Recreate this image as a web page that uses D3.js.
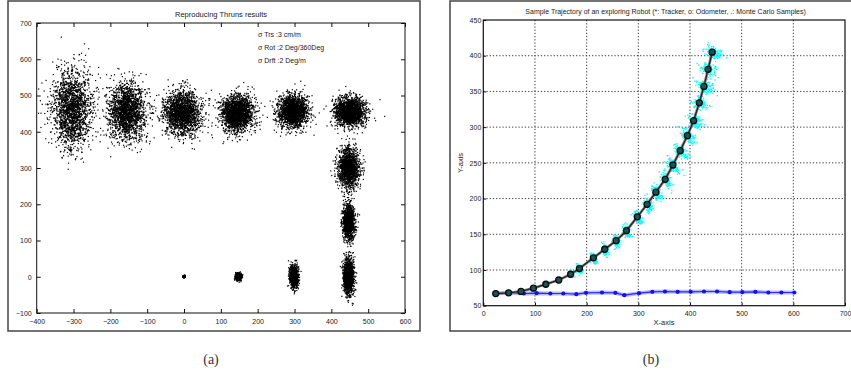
<!DOCTYPE html>
<html><head><meta charset="utf-8">
<script src="https://cdn.jsdelivr.net/npm/d3@7"></script>
<style>
html,body{margin:0;padding:0;background:#fff;}
svg{display:block;}
</style></head>
<body>
<svg id="chart" width="851" height="376"></svg>
<script>
// ---------- Panel (a): sample clouds ----------
const leftTitle = "Reproducing Thruns results";
const leftLegend = ["σ Trs :3 cm/m", "σ Rot :2 Deg/360Deg", "σ Drft :2 Deg/m"];
const leftTicksX = [-400,-300,-200,-100,0,100,200,300,400,500,600];
const leftTicksY = [-100,0,100,200,300,400,500,600,700];
const cloudX   = [-305,-155,-5,145,297,450,447,447,447,299,148,0];
const cloudY   = [465,455,452,450,455,455,300,150,0,0,0,0];
const cloudSdX = [26,25,24,22,20,21,14,8,7,6,4,1.5];
const cloudSdY = [52,40,30,25,22,20,26,23,25,15,5,1.5];
const cloudN   = [1900,1900,1900,1900,1900,1900,1500,1300,1300,900,600,150];

// ---------- Panel (b): trajectory ----------
const rightTitle = "Sample Trajectory of an exploring Robot (*: Tracker, o: Odometer, .: Monte Carlo Samples)";
const rightTicksX = [0,100,200,300,400,500,600,700];
const rightTicksY = [50,100,150,200,250,300,350,400,450];
const odoX = [24,49,73,97,121,146,169,186,213,235,257,277,298,317,334,352,367,381,395,407,418,427,435,443];
const odoY = [67,68,70,74.5,80,86,94,102,117,129,141,155,174.5,192,209,227,247,267,288,309,334,357,381,405];
const trackX = [24.5,48.4,78.7,103.2,129.7,154.8,180,198.7,229.7,255.5,272.9,301.3,327.1,351.6,376.1,401.3,427.1,452.3,476.8,501.3,526.5,551.6,576.8,601.9];
const trackY = [67.1,68,67.1,67.6,67.1,67.1,66.2,68,68.5,68,64.8,67.6,69.4,69.9,69.4,69.4,69.9,69.9,69,69,69.4,68.5,68.5,68.5];
const mcSpread = [1,1,1,1,1,1.2,2,3,3.5,4,4.5,5,5.5,6,6.5,7,7,7.5,7.5,8,8,8.5,8.5,9];
const captions = ["(a)", "(b)"];

const SANS = "Liberation Sans, Arial, sans-serif";
const SERIF = "Liberation Serif, Times New Roman, serif";
const svg = d3.select("#chart");

// ===== Panel (a) =====
svg.append("rect").attr("x",8).attr("y",1).attr("width",412).attr("height",330)
  .attr("fill","none").attr("stroke","#444").attr("stroke-width",1.5);

const xa = d3.scaleLinear().domain([-400,600]).range([36.7,405]);
const ya = d3.scaleLinear().domain([-100,700]).range([313,23]);

const gA = svg.append("g");
const lcgA = d3.randomLcg(0.4271);
const normA = d3.randomNormal.source(lcgA)(0,1);
const ptsA = [];
cloudX.forEach((cx,i)=>{
  for(let k=0;k<cloudN[i];k++){
    ptsA.push([cx + normA()*cloudSdX[i], cloudY[i] + normA()*cloudSdY[i]]);
  }
});
gA.append("g").selectAll("rect").data(ptsA).join("rect")
  .attr("x",d=>xa(d[0])-0.6).attr("y",d=>ya(d[1])-0.6)
  .attr("width",1.2).attr("height",1.2).attr("fill","#000");

gA.append("rect").attr("x",xa(-400)).attr("y",ya(700)).attr("width",xa(600)-xa(-400)).attr("height",ya(-100)-ya(700))
  .attr("fill","none").attr("stroke","#111").attr("stroke-width",1);
const minus = d=>d<0?"\u2212"+(-d):d;
const axBa = d3.axisBottom(xa).tickValues(leftTicksX).tickSize(-4).tickPadding(6).tickFormat(minus);
const axTa = d3.axisTop(xa).tickValues(leftTicksX).tickSize(-4).tickFormat("");
const axLa = d3.axisLeft(ya).tickValues(leftTicksY).tickSize(-4).tickPadding(5).tickFormat(minus);
const axRa = d3.axisRight(ya).tickValues(leftTicksY).tickSize(-4).tickFormat("");
[[axBa,`translate(0,${ya(-100)})`],[axTa,`translate(0,${ya(700)})`],[axLa,`translate(${xa(-400)},0)`],[axRa,`translate(${xa(600)},0)`]]
  .forEach(([ax,tr])=>{
    const g = gA.append("g").attr("transform",tr).call(ax);
    g.select(".domain").remove();
    g.selectAll("line").attr("stroke","#111");
    g.selectAll("text").attr("font-size",7).attr("fill","#222").attr("font-family",SANS);
  });

gA.append("text").attr("x",221).attr("y",16.5).attr("text-anchor","middle").attr("font-size",7.5)
  .attr("font-family",SANS).attr("fill","#222").text(leftTitle);
gA.selectAll("text.leg").data(leftLegend).join("text").attr("class","leg")
  .attr("x",258).attr("y",(d,i)=>37+i*13).attr("font-size",7).attr("font-family",SANS).attr("fill","#222").text(d=>d);

// ===== Panel (b) =====
svg.append("rect").attr("x",450).attr("y",1).attr("width",430).attr("height",330)
  .attr("fill","none").attr("stroke","#444").attr("stroke-width",1.5);

const xb = d3.scaleLinear().domain([0,700]).range([483.3,845]);
const yb = d3.scaleLinear().domain([50,450]).range([305.7,20]);
const gB = svg.append("g");

gB.append("g").selectAll("line").data(rightTicksX.slice(1,-1)).join("line")
  .attr("x1",d=>xb(d)).attr("x2",d=>xb(d)).attr("y1",yb(450)).attr("y2",yb(50))
  .attr("stroke","#333").attr("stroke-width",1).attr("stroke-dasharray","1.2,2");
gB.append("g").selectAll("line").data(rightTicksY.slice(1,-1)).join("line")
  .attr("y1",d=>yb(d)).attr("y2",d=>yb(d)).attr("x1",xb(0)).attr("x2",xb(700))
  .attr("stroke","#333").attr("stroke-width",1).attr("stroke-dasharray","1.2,2");

const trk = trackX.map((x,i)=>[x,trackY[i]]);
const lineB = d3.line().x(d=>xb(d[0])).y(d=>yb(d[1]));
gB.append("path").datum(trk).attr("d",lineB).attr("fill","none").attr("stroke","#7f7fff").attr("stroke-opacity",0.55).attr("stroke-width",4);
gB.append("path").datum(trk).attr("d",lineB).attr("fill","none").attr("stroke","#2a2aff").attr("stroke-width",1.2);
gB.append("g").selectAll("circle").data(trk).join("circle")
  .attr("cx",d=>xb(d[0])).attr("cy",d=>yb(d[1])).attr("r",2.1).attr("fill","#1010ff");

const odo = odoX.map((x,i)=>[x,odoY[i]]);
const lcgB = d3.randomLcg(0.8123);
const normB = d3.randomNormal.source(lcgB)(0,1);
const ptsB = [];
odo.forEach((p,i)=>{
  const a = odo[Math.max(0,i-1)], b = odo[Math.min(odo.length-1,i+1)];
  let dx = b[0]-a[0], dy = b[1]-a[1]; const L = Math.hypot(dx,dy)||1; dx/=L; dy/=L;
  const px = dy, py = -dx;
  const s = mcSpread[i];
  for(let k=0;k<110;k++){
    const u = normB()*s + 0.3*s, v = normB()*(0.4*s+1);
    ptsB.push([p[0]+px*u+dx*v, p[1]+py*u+dy*v]);
  }
});
gB.append("g").selectAll("rect").data(ptsB).join("rect")
  .attr("x",d=>xb(d[0])-0.65).attr("y",d=>yb(d[1])-0.65).attr("width",1.3).attr("height",1.3).attr("fill","#00ffff");

gB.append("path").datum(odo).attr("d",lineB).attr("fill","none").attr("stroke","#8a8a8a").attr("stroke-width",2.8);
gB.append("path").datum(odo).attr("d",lineB).attr("fill","none").attr("stroke","#222").attr("stroke-width",1.3);
gB.append("g").selectAll("circle").data(odo).join("circle")
  .attr("cx",d=>xb(d[0])).attr("cy",d=>yb(d[1])).attr("r",3)
  .attr("fill","#175656").attr("stroke","#0a0a0a").attr("stroke-width",1.3);

gB.append("rect").attr("x",xb(0)).attr("y",yb(450)).attr("width",xb(700)-xb(0)).attr("height",yb(50)-yb(450))
  .attr("fill","none").attr("stroke","#111").attr("stroke-width",1.2);
const axBb = d3.axisBottom(xb).tickValues(rightTicksX).tickSize(-3).tickPadding(5);
const axLb = d3.axisLeft(yb).tickValues(rightTicksY).tickSize(-3).tickPadding(2);
[[axBb,`translate(0,${yb(50)})`],[axLb,`translate(${xb(0)},0)`]].forEach(([ax,tr])=>{
  const g = gB.append("g").attr("transform",tr).call(ax);
  g.select(".domain").remove();
  g.selectAll("line").attr("stroke","#111");
  g.selectAll("text").attr("font-size",7).attr("fill","#222").attr("font-family",SANS);
});
gB.append("text").attr("x",665.6).attr("y",13.5).attr("text-anchor","middle").attr("font-size",7)
  .attr("font-family",SANS).attr("fill","#222").text(rightTitle);
gB.append("text").attr("x",664).attr("y",325).attr("text-anchor","middle").attr("font-size",7.5)
  .attr("font-family",SANS).attr("fill","#222").text("X-axis");
gB.append("text").attr("transform","translate(463,163) rotate(-90)").attr("text-anchor","middle").attr("font-size",7.5)
  .attr("font-family",SANS).attr("fill","#222").text("Y-axis");

svg.selectAll("text.cap").data(captions).join("text").attr("class","cap")
  .attr("x",(d,i)=>[211,651][i]).attr("y",364).attr("text-anchor","middle")
  .attr("font-size",14).attr("font-family",SERIF).attr("fill","#333").text(d=>d);
</script>
</body></html>
